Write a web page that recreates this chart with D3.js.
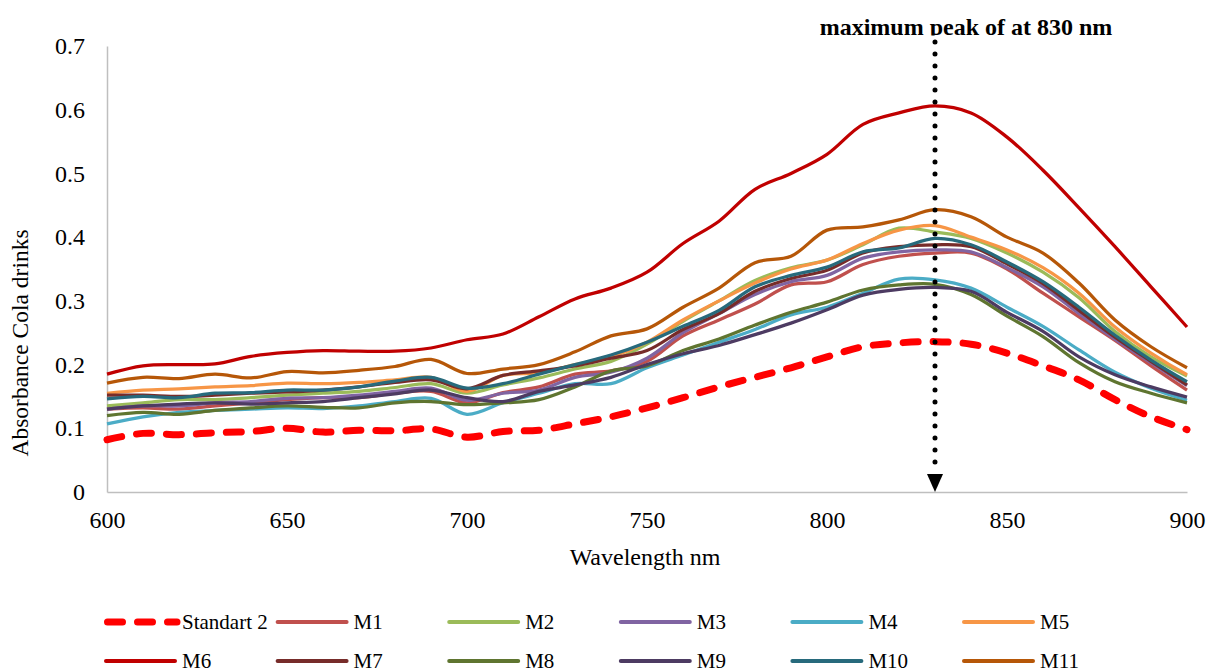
<!DOCTYPE html>
<html>
<head>
<meta charset="utf-8">
<script src="https://cdn.jsdelivr.net/npm/d3@7"></script>
<style>
  body { margin: 0; background: #fff; }
  svg text { font-family: "Liberation Serif", "DejaVu Serif", serif; fill: #000; }
</style>
</head>
<body>
<div id="chart"></div>
<script>
// wavelength grid (nm)
var wavelengths = [600, 610, 620, 630, 640, 650, 660, 670, 680, 690, 700, 710, 720, 730, 740, 750,
  760, 770, 780, 790, 800, 810, 820, 830, 840, 850, 860, 870, 880, 890, 900];

var seriesNames = ["Standart 2", "M1", "M2", "M3", "M4", "M5", "M6", "M7", "M8", "M9", "M10", "M11"];

var standart2 = [0.082, 0.092, 0.090, 0.093, 0.095, 0.100, 0.094, 0.097, 0.096, 0.099, 0.086, 0.095, 0.097, 0.107, 0.118, 0.132,
  0.148, 0.165, 0.180, 0.195, 0.212, 0.228, 0.234, 0.236, 0.232, 0.218, 0.198, 0.176, 0.145, 0.118, 0.098];
var m1 = [0.130, 0.132, 0.130, 0.135, 0.140, 0.145, 0.148, 0.148, 0.155, 0.158, 0.140, 0.156, 0.165, 0.185, 0.190, 0.205,
  0.245, 0.270, 0.295, 0.325, 0.330, 0.357, 0.370, 0.375, 0.375, 0.350, 0.312, 0.275, 0.238, 0.198, 0.160];
var m2 = [0.135, 0.140, 0.145, 0.145, 0.148, 0.152, 0.155, 0.158, 0.164, 0.170, 0.155, 0.168, 0.179, 0.193, 0.205, 0.232,
  0.268, 0.300, 0.332, 0.352, 0.364, 0.388, 0.414, 0.408, 0.398, 0.375, 0.345, 0.305, 0.252, 0.212, 0.182];
var m3 = [0.130, 0.135, 0.135, 0.140, 0.142, 0.147, 0.148, 0.152, 0.158, 0.163, 0.144, 0.155, 0.160, 0.180, 0.188, 0.210,
  0.250, 0.280, 0.310, 0.330, 0.340, 0.367, 0.377, 0.380, 0.377, 0.352, 0.322, 0.280, 0.240, 0.203, 0.167];
var m4 = [0.107, 0.118, 0.125, 0.128, 0.130, 0.132, 0.131, 0.135, 0.142, 0.147, 0.122, 0.140, 0.155, 0.170, 0.170, 0.195,
  0.215, 0.235, 0.255, 0.278, 0.290, 0.312, 0.334, 0.333, 0.320, 0.290, 0.260, 0.223, 0.188, 0.163, 0.144];
var m5 = [0.155, 0.160, 0.162, 0.165, 0.167, 0.171, 0.170, 0.172, 0.176, 0.180, 0.158, 0.183, 0.187, 0.200, 0.212, 0.235,
  0.270, 0.300, 0.328, 0.350, 0.364, 0.390, 0.411, 0.418, 0.400, 0.380, 0.352, 0.312, 0.259, 0.218, 0.184];
var m6 = [0.185, 0.198, 0.200, 0.201, 0.213, 0.219, 0.222, 0.221, 0.221, 0.226, 0.239, 0.248, 0.275, 0.303, 0.320, 0.345,
  0.390, 0.425, 0.475, 0.500, 0.530, 0.577, 0.595, 0.606, 0.595, 0.557, 0.505, 0.446, 0.385, 0.322, 0.259];
var m7 = [0.152, 0.152, 0.150, 0.152, 0.155, 0.157, 0.160, 0.165, 0.172, 0.176, 0.162, 0.183, 0.190, 0.198, 0.210, 0.222,
  0.255, 0.280, 0.315, 0.335, 0.348, 0.375, 0.385, 0.388, 0.385, 0.358, 0.327, 0.285, 0.243, 0.205, 0.168];
var m8 = [0.120, 0.125, 0.122, 0.128, 0.132, 0.135, 0.133, 0.132, 0.140, 0.142, 0.137, 0.140, 0.145, 0.165, 0.190, 0.198,
  0.222, 0.240, 0.262, 0.282, 0.298, 0.317, 0.325, 0.326, 0.310, 0.276, 0.244, 0.203, 0.173, 0.155, 0.140];
var m9 = [0.130, 0.135, 0.138, 0.140, 0.138, 0.140, 0.142, 0.148, 0.154, 0.160, 0.148, 0.142, 0.158, 0.168, 0.180, 0.200,
  0.217, 0.230, 0.247, 0.265, 0.286, 0.309, 0.318, 0.321, 0.315, 0.282, 0.252, 0.212, 0.184, 0.165, 0.149];
var m10 = [0.146, 0.150, 0.148, 0.155, 0.156, 0.160, 0.160, 0.165, 0.174, 0.180, 0.163, 0.170, 0.185, 0.200, 0.215, 0.235,
  0.260, 0.285, 0.322, 0.340, 0.353, 0.377, 0.383, 0.398, 0.388, 0.361, 0.330, 0.290, 0.246, 0.207, 0.173];
var m11 = [0.171, 0.180, 0.178, 0.185, 0.179, 0.189, 0.187, 0.191, 0.197, 0.208, 0.186, 0.193, 0.200, 0.220, 0.245, 0.256,
  0.290, 0.320, 0.360, 0.370, 0.411, 0.416, 0.427, 0.443, 0.432, 0.400, 0.375, 0.328, 0.270, 0.228, 0.195];

var seriesValues = [standart2, m1, m2, m3, m4, m5, m6, m7, m8, m9, m10, m11];

var xTicks = [600, 650, 700, 750, 800, 850, 900];
var yTicks = [0, 0.1, 0.2, 0.3, 0.4, 0.5, 0.6, 0.7];
var peakWavelength = 830;

// styles
var colors = ["#FF0000", "#C0504D", "#9BBB59", "#8064A2", "#4BACC6", "#F79646",
  "#C00000", "#772C2A", "#5F7530", "#4D3B62", "#276A7C", "#B65708"];

var svgWidth = 1209;
var svgHeight = 669;
var margin = { top: 46, right: 22, bottom: 177, left: 107 };
var width = svgWidth - margin.left - margin.right;
var height = svgHeight - margin.top - margin.bottom;

var svg = d3.select("#chart")
  .append("svg")
  .attr("width", svgWidth)
  .attr("height", svgHeight);

var chartGroup = svg.append("g")
  .attr("transform", `translate(${margin.left}, ${margin.top})`);

var xScale = d3.scaleLinear().domain([600, 900]).range([0, width]);
var yScale = d3.scaleLinear().domain([0, 0.7]).range([height, 0]);

// axes
var xAxis = d3.axisBottom(xScale).tickValues(xTicks).tickSize(0).tickPadding(19).tickFormat(d => d);
var yAxis = d3.axisLeft(yScale).tickValues(yTicks).tickSize(0).tickPadding(22).tickFormat(d => d);

var gx = chartGroup.append("g")
  .attr("transform", `translate(0, ${height})`)
  .call(xAxis);
var gy = chartGroup.append("g").call(yAxis);

[gx, gy].forEach(function(g) {
  g.attr("font-family", null);
  g.select(".domain").attr("stroke", "#BFBFBF").attr("stroke-width", 1.5);
  g.selectAll("text").attr("font-size", 24);
});

// lines
var line = d3.line()
  .x((d, i) => xScale(wavelengths[i]))
  .y(d => yScale(d))
  .curve(d3.curveCatmullRom.alpha(0.5));

seriesValues.forEach(function(vals, i) {
  var path = chartGroup.append("path")
    .datum(vals)
    .attr("fill", "none")
    .attr("stroke", colors[i])
    .attr("stroke-linejoin", "round")
    .attr("d", line);
  if (i === 0) {
    path.attr("stroke-width", 7).attr("stroke-linecap", "round").attr("stroke-dasharray", "15,15");
  } else {
    path.attr("stroke-width", 3.25);
  }
});

// dotted arrow marking the peak
var px = xScale(peakWavelength);
chartGroup.append("line")
  .attr("x1", px).attr("x2", px)
  .attr("y1", -4).attr("y2", height - 22)
  .attr("stroke", "#000")
  .attr("stroke-width", 5)
  .attr("stroke-linecap", "round")
  .attr("stroke-dasharray", "0,12");

chartGroup.append("path")
  .attr("d", `M${px - 8},${height - 18} L${px + 8},${height - 18} L${px},${height} Z`)
  .attr("fill", "#000");

// annotation (cut at the bottom like the original)
svg.append("clipPath").attr("id", "titleClip")
  .append("rect").attr("x", 0).attr("y", 0).attr("width", svgWidth).attr("height", 35.5);

svg.append("text")
  .attr("clip-path", "url(#titleClip)")
  .attr("x", 966)
  .attr("y", 34.5)
  .attr("text-anchor", "middle")
  .attr("font-size", 24)
  .attr("font-weight", "bold")
  .text("maximum peak of at 830 nm");

// axis titles
svg.append("text")
  .attr("x", 645)
  .attr("y", 565)
  .attr("text-anchor", "middle")
  .attr("font-size", 24)
  .text("Wavelength nm");

svg.append("text")
  .attr("transform", "rotate(-90)")
  .attr("x", -343)
  .attr("y", 28)
  .attr("text-anchor", "middle")
  .attr("font-size", 23.5)
  .text("Absorbance Cola drinks");

// legend
var legend = svg.append("g");
seriesNames.forEach(function(name, i) {
  var col = i % 6;
  var row = Math.floor(i / 6);
  var lx = 104 + col * 171.6;
  var ly = 622 + row * 39;
  var item = legend.append("g").attr("transform", `translate(${lx}, ${ly})`);
  var l = item.append("line")
    .attr("x1", 2).attr("x2", 71)
    .attr("y1", 0).attr("y2", 0)
    .attr("stroke", colors[i]);
  if (i === 0) {
    l.attr("x1", 3.5).attr("x2", 73).attr("stroke-width", 7).attr("stroke-linecap", "round").attr("stroke-dasharray", "15,15");
  } else {
    l.attr("stroke-width", 4).attr("stroke-linecap", "round");
  }
  item.append("text")
    .attr("x", 78)
    .attr("y", 6.5)
    .attr("font-size", 21)
    .text(name);
});
</script>
</body>
</html>
